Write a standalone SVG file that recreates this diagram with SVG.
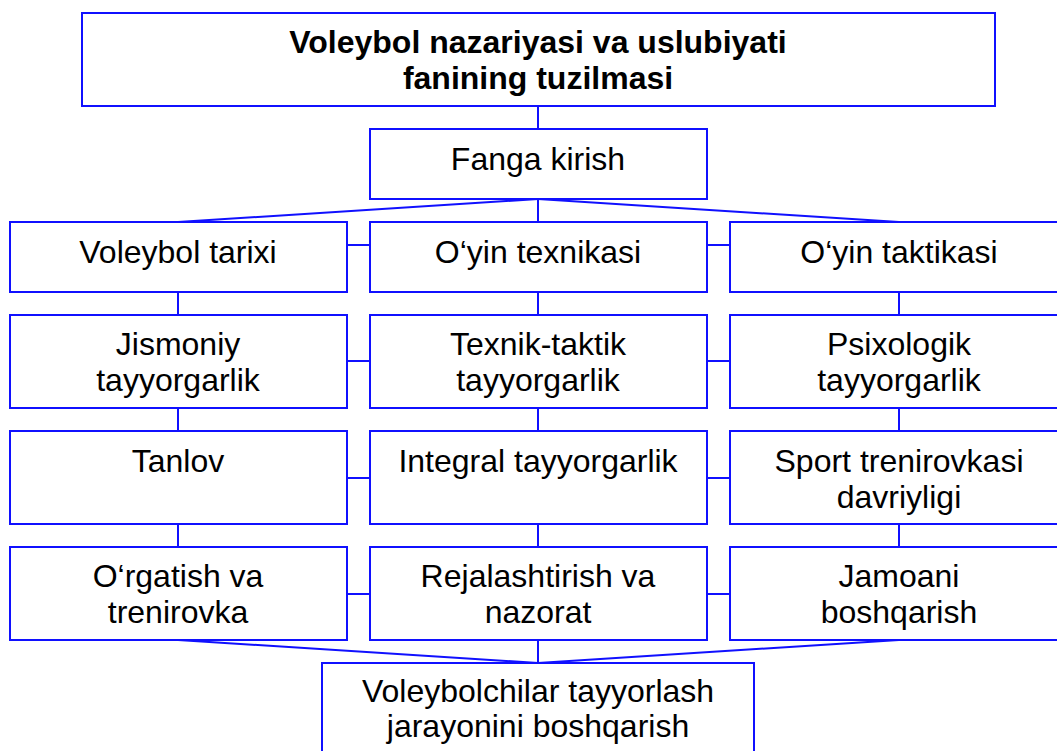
<svg xmlns="http://www.w3.org/2000/svg" width="1057" height="751" viewBox="0 0 1057 751">
<style>
.b{fill:#fff;stroke:#1010ff;stroke-width:2}
.c line{stroke:#1010ff;stroke-width:2}
text{font-family:"Liberation Sans",Arial,sans-serif;font-size:32px;fill:#000;text-anchor:middle}
.t{font-weight:bold;font-size:32px}
</style>
<rect width="1057" height="751" fill="#fff"/>
<g class="c" id="connectors">
<line x1="538" y1="106" x2="538" y2="129"/>
<line x1="538" y1="199" x2="178" y2="222"/>
<line x1="538" y1="199" x2="538" y2="222"/>
<line x1="538" y1="199" x2="899" y2="222"/>
<line x1="347" y1="245" x2="370" y2="245"/>
<line x1="707" y1="245" x2="730" y2="245"/>
<line x1="347" y1="361" x2="370" y2="361"/>
<line x1="707" y1="361" x2="730" y2="361"/>
<line x1="347" y1="478" x2="370" y2="478"/>
<line x1="707" y1="478" x2="730" y2="478"/>
<line x1="347" y1="594" x2="370" y2="594"/>
<line x1="707" y1="594" x2="730" y2="594"/>
<line x1="178" y1="292" x2="178" y2="315"/>
<line x1="538" y1="292" x2="538" y2="315"/>
<line x1="899" y1="292" x2="899" y2="315"/>
<line x1="178" y1="408" x2="178" y2="431"/>
<line x1="538" y1="408" x2="538" y2="431"/>
<line x1="899" y1="408" x2="899" y2="431"/>
<line x1="178" y1="524" x2="178" y2="547"/>
<line x1="538" y1="524" x2="538" y2="547"/>
<line x1="899" y1="524" x2="899" y2="547"/>
<line x1="178" y1="640" x2="538" y2="663"/>
<line x1="538" y1="640" x2="538" y2="663"/>
<line x1="899" y1="640" x2="538" y2="663"/>
</g>
<g id="title"><rect class="b" x="82" y="13" width="913" height="93"/>
<text class="t" x="538" y="53">Voleybol nazariyasi va uslubiyati</text>
<text class="t" x="538" y="89">fanining tuzilmasi</text></g>
<g id="fanga"><rect class="b" x="370" y="129" width="337" height="70"/>
<text x="538" y="170">Fanga kirish</text></g>
<g id="tarix"><rect class="b" x="10" y="222" width="337" height="70"/>
<text x="178" y="263">Voleybol tarixi</text></g>
<g id="texnika"><rect class="b" x="370" y="222" width="337" height="70"/>
<text x="538" y="263">O‘yin texnikasi</text></g>
<g id="taktika"><rect class="b" x="730" y="222" width="338" height="70"/>
<text x="899" y="263">O‘yin taktikasi</text></g>
<g id="jismoniy"><rect class="b" x="10" y="315" width="337" height="93"/>
<text x="178" y="355">Jismoniy</text><text x="178" y="391">tayyorgarlik</text></g>
<g id="texnik"><rect class="b" x="370" y="315" width="337" height="93"/>
<text x="538" y="355">Texnik-taktik</text><text x="538" y="391">tayyorgarlik</text></g>
<g id="psix"><rect class="b" x="730" y="315" width="338" height="93"/>
<text x="899" y="355">Psixologik</text><text x="899" y="391">tayyorgarlik</text></g>
<g id="tanlov"><rect class="b" x="10" y="431" width="337" height="93"/>
<text x="178" y="472">Tanlov</text></g>
<g id="integral"><rect class="b" x="370" y="431" width="337" height="93"/>
<text x="538" y="472">Integral tayyorgarlik</text></g>
<g id="sport"><rect class="b" x="730" y="431" width="338" height="93"/>
<text x="899" y="472">Sport trenirovkasi</text><text x="899" y="508">davriyligi</text></g>
<g id="orgatish"><rect class="b" x="10" y="547" width="337" height="93"/>
<text x="178" y="587">O‘rgatish va</text><text x="178" y="623">trenirovka</text></g>
<g id="reja"><rect class="b" x="370" y="547" width="337" height="93"/>
<text x="538" y="587">Rejalashtirish va</text><text x="538" y="623">nazorat</text></g>
<g id="jamoa"><rect class="b" x="730" y="547" width="338" height="93"/>
<text x="899" y="587">Jamoani</text><text x="899" y="623">boshqarish</text></g>
<g id="bottom"><rect class="b" x="322" y="663" width="432" height="110"/>
<text x="538" y="702">Voleybolchilar tayyorlash</text><text x="538" y="737">jarayonini boshqarish</text></g>
</svg>
